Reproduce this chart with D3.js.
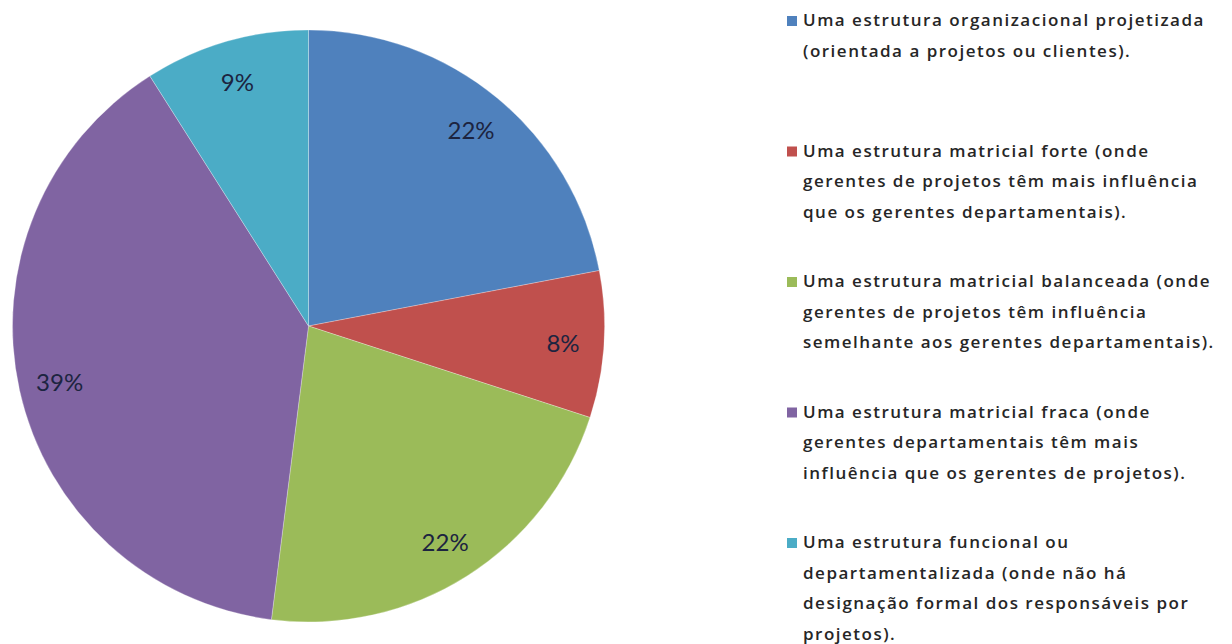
<!DOCTYPE html>
<html>
<head>
<meta charset="utf-8">
<script src="https://cdn.jsdelivr.net/npm/d3@7"></script>
<style>
  html, body { margin: 0; padding: 0; background: #ffffff; }
  svg { display: block; }
</style>
</head>
<body>
<svg id="chart" width="1232" height="644"></svg>
<script>
// Organisational structure types and their share of respondents (%)
const categories = [
  "Uma estrutura organizacional projetizada (orientada a projetos ou clientes).",
  "Uma estrutura matricial forte (onde gerentes de projetos têm mais influência que os gerentes departamentais).",
  "Uma estrutura matricial balanceada (onde gerentes de projetos têm influência semelhante aos gerentes departamentais).",
  "Uma estrutura matricial fraca (onde gerentes departamentais têm mais influência que os gerentes de projetos).",
  "Uma estrutura funcional ou departamentalizada (onde não há designação formal dos responsáveis por projetos)."
];
const values = [22, 8, 22, 39, 9];
// Legend text broken into the lines it is displayed on
const legendLines = [
  ["Uma estrutura organizacional projetizada", "(orientada a projetos ou clientes)."],
  ["Uma estrutura matricial forte (onde", "gerentes de projetos têm mais influência", "que os gerentes departamentais)."],
  ["Uma estrutura matricial balanceada (onde", "gerentes de projetos têm influência", "semelhante aos gerentes departamentais)."],
  ["Uma estrutura matricial fraca (onde", "gerentes departamentais têm mais", "influência que os gerentes de projetos)."],
  ["Uma estrutura funcional ou", "departamentalizada (onde não há", "designação formal dos responsáveis por", "projetos)."]
];
const colors = ["#4f81bd", "#c0504d", "#9bbb59", "#8064a2", "#4bacc6"];

const svg = d3.select("#chart");
const cx = 308.5, cy = 326, radius = 296;

const color = d3.scaleOrdinal().domain(d3.range(values.length)).range(colors);
const pie = d3.pie().sort(null).value(d => d)(values);
const arc = d3.arc().innerRadius(0).outerRadius(radius);
const labelArc = d3.arc().innerRadius(255).outerRadius(255);

const g = svg.append("g").attr("transform", `translate(${cx},${cy})`);

g.selectAll("path.slice")
  .data(pie)
  .join("path")
  .attr("class", "slice")
  .attr("d", arc)
  .attr("fill", (d, i) => color(i))
  .attr("stroke", "rgba(255,255,255,0.35)")
  .attr("stroke-width", 0.8);

g.selectAll("text.pct")
  .data(pie)
  .join("text")
  .attr("class", "pct")
  .attr("transform", d => `translate(${labelArc.centroid(d)})`)
  .attr("text-anchor", "middle")
  .attr("dominant-baseline", "central")
  .attr("font-family", "Lato, 'Open Sans', sans-serif")
  .attr("font-size", 24)
  .attr("fill", "#1c2440")
  .text(d => d.data + "%");

// Legend
const legendX = 787, legendTop = 16, itemStep = 130.5, lineStep = 30.5;
const legend = svg.append("g").attr("class", "legend");
const items = legend.selectAll("g.item")
  .data(legendLines)
  .join("g")
  .attr("class", "item")
  .attr("transform", (d, i) => `translate(${legendX},${legendTop + i * itemStep})`);

items.append("rect")
  .attr("width", 10)
  .attr("height", 10)
  .attr("fill", (d, i) => color(i));

items.append("text")
  .attr("x", 16)
  .attr("y", 10)
  .attr("font-family", "'Open Sans', Lato, sans-serif")
  .attr("font-size", 17)
  .attr("font-weight", 600)
  .attr("letter-spacing", 1.5)
  .attr("fill", "#262626")
  .selectAll("tspan")
  .data(d => d)
  .join("tspan")
  .attr("x", 16)
  .attr("dy", (d, i) => i === 0 ? 0 : lineStep)
  .text(d => d);
</script>
</body>
</html>
